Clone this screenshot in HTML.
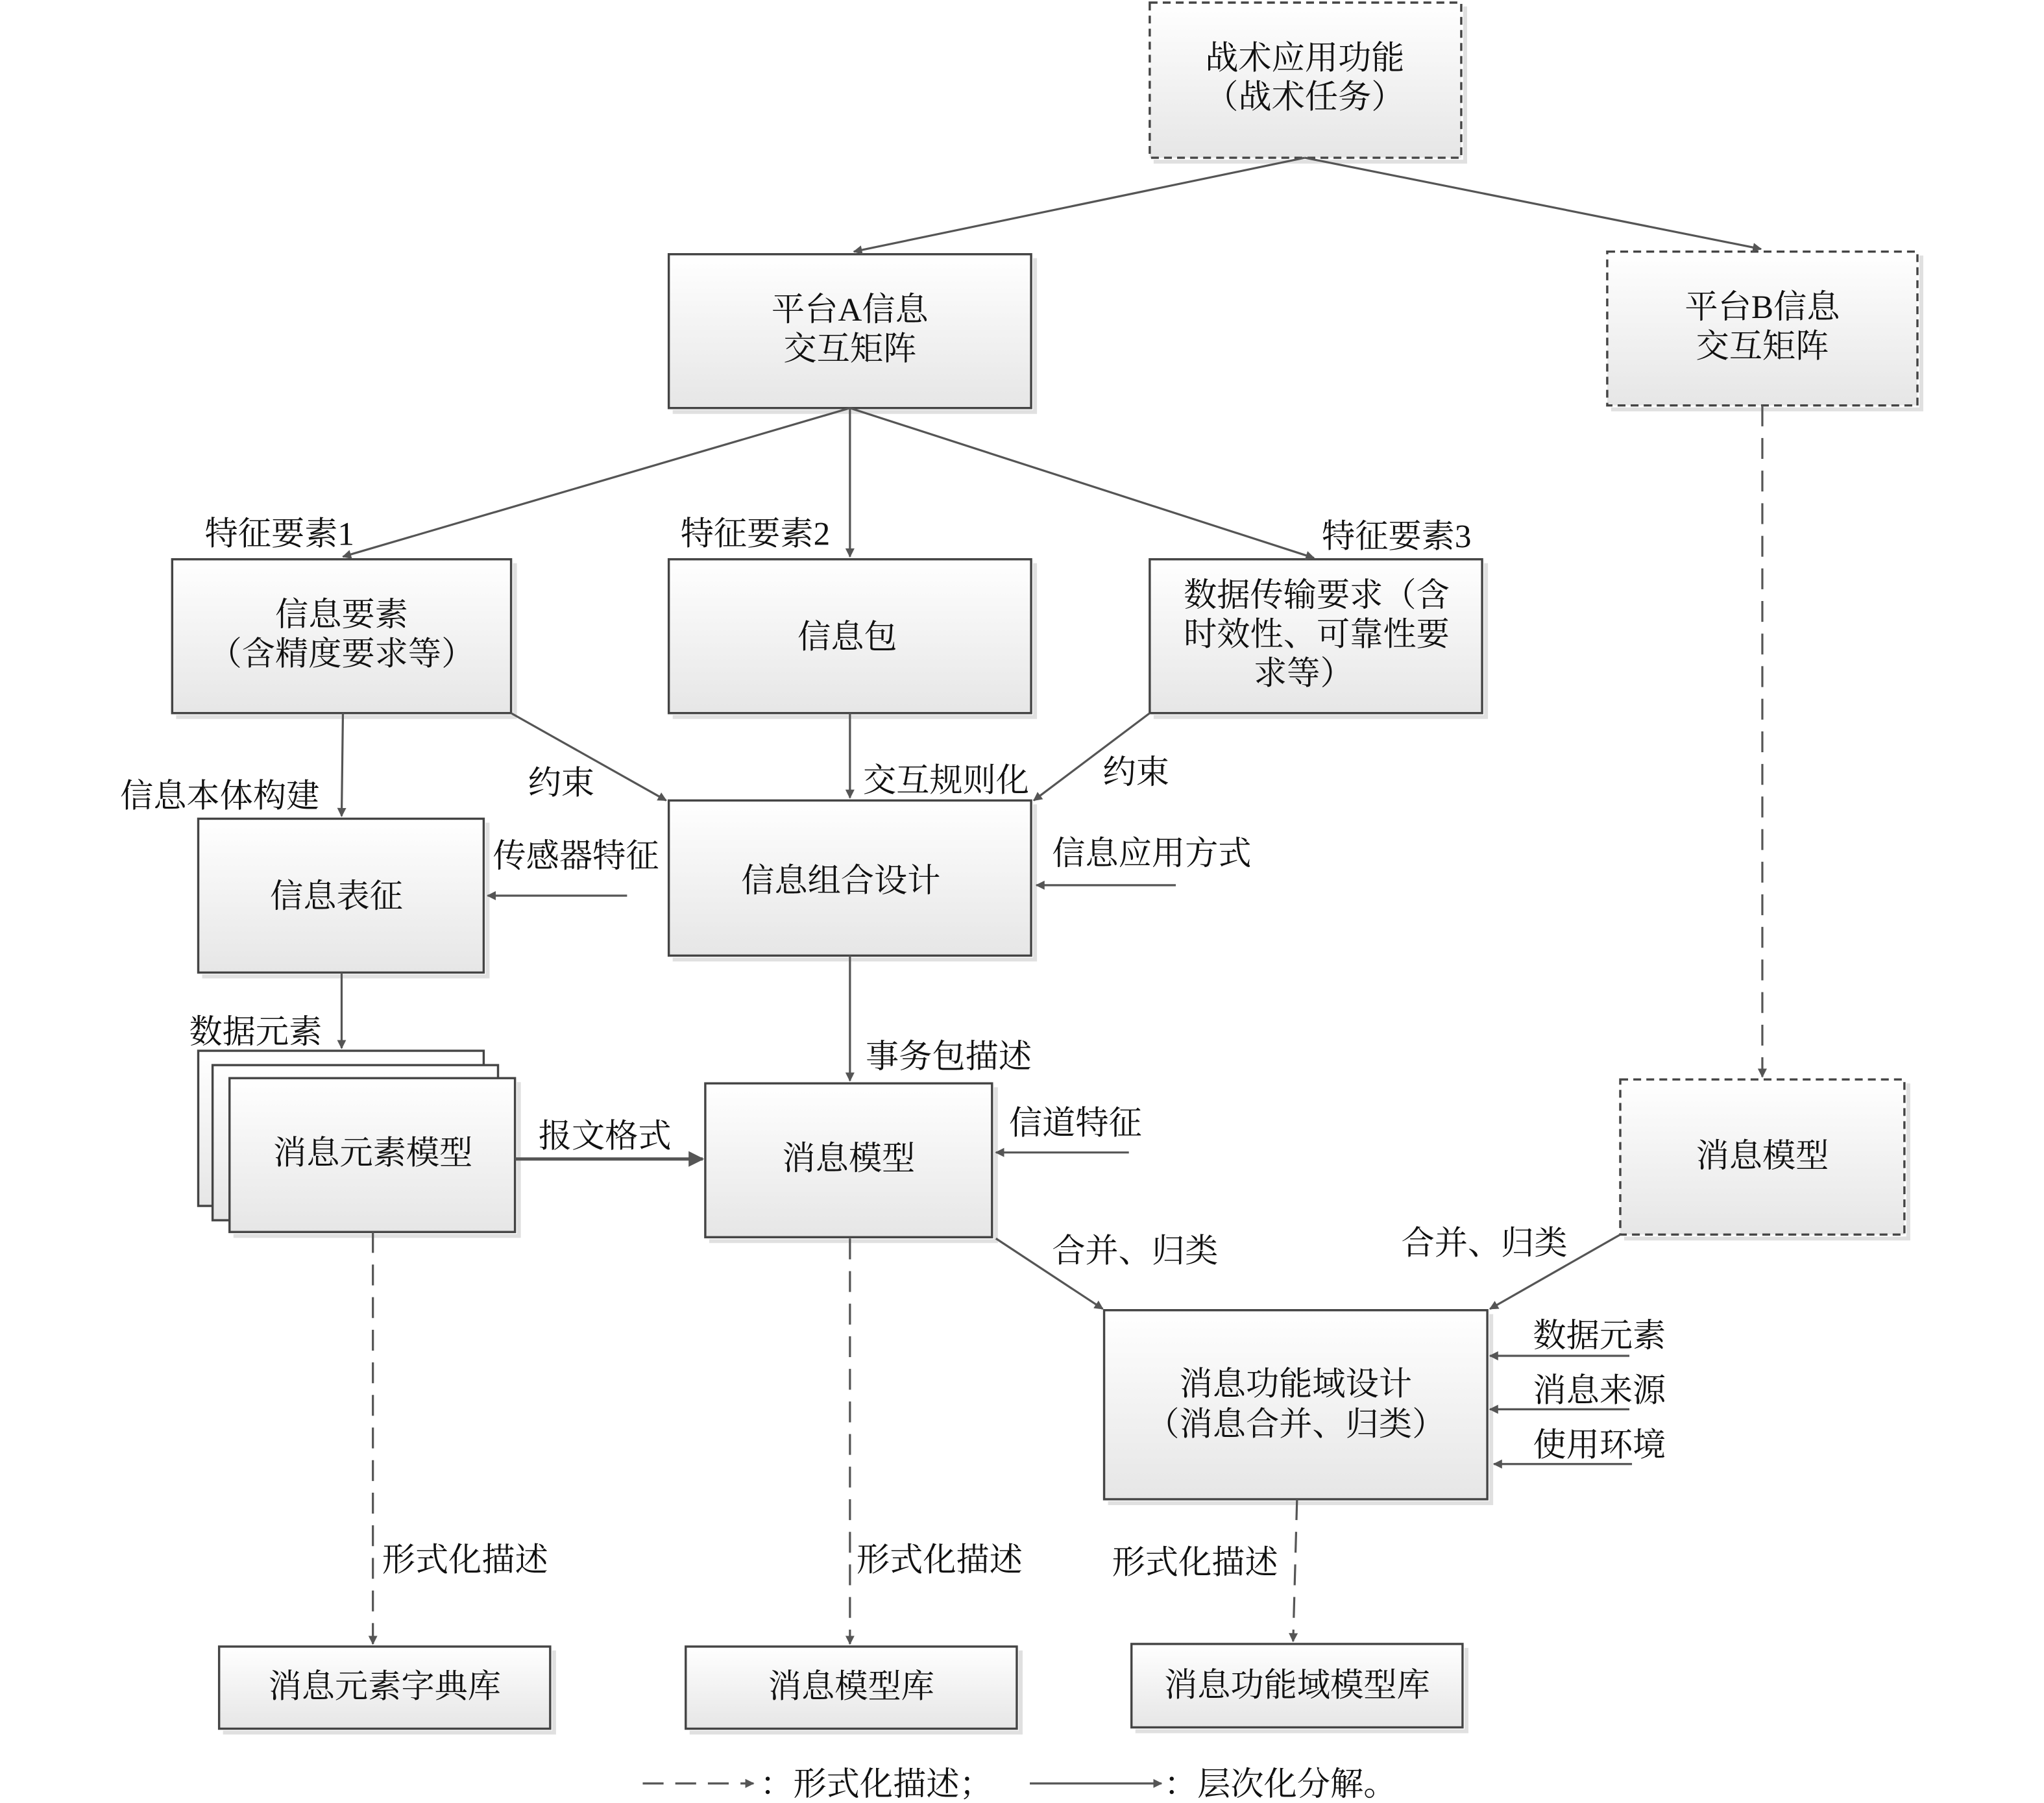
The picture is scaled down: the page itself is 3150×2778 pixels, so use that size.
<!DOCTYPE html>
<html><head><meta charset="utf-8"><style>html,body{margin:0;padding:0;background:#fff}svg{display:block}</style></head><body>
<svg width="3150" height="2778" viewBox="0 0 1568 1383" xmlns="http://www.w3.org/2000/svg" font-family="'Liberation Serif','Noto Serif CJK SC',serif" font-size="25.5" fill="#111">
<defs>
<linearGradient id="g" x1="0" y1="0" x2="0" y2="1"><stop offset="0" stop-color="#ffffff"/><stop offset="1" stop-color="#e6e6e6"/></linearGradient>
<marker id="a" viewBox="0 0 10 10" refX="9" refY="5" markerWidth="7" markerHeight="7" markerUnits="userSpaceOnUse" orient="auto"><path d="M0,0 L10,5 L0,10 z" fill="#555"/></marker>
<marker id="b" viewBox="0 0 10 10" refX="9" refY="5" markerWidth="14" markerHeight="12" markerUnits="userSpaceOnUse" orient="auto"><path d="M0,0 L10,5 L0,10 z" fill="#555"/></marker>
</defs>
<g stroke="#e0e0e0" stroke-width="3" fill="none">
<path d="M885,124 H1124 V5"/><path d="M516,316 H794 V198"/><path d="M1236,314 H1474 V196"/>
<path d="M135,550 H395 V432"/><path d="M516,550 H794 V432"/><path d="M885,550 H1140 V432"/>
<path d="M155,749 H374 V631"/><path d="M516,736 H794 V617"/>
<path d="M179,948 H398 V830"/><path d="M544,952 H764 V834"/><path d="M1246,950 H1464 V831"/>
<path d="M850,1153 H1144 V1008"/><path d="M171,1329 H425 V1266"/><path d="M529,1329 H783 V1266"/><path d="M871,1328 H1125 V1264"/>
</g>
<g stroke="#444" stroke-width="1.7" fill="url(#g)">
<rect x="882" y="2" width="239" height="119" stroke-dasharray="6,4"/>
<rect x="513" y="195" width="278" height="118"/>
<rect x="1233" y="193" width="238" height="118" stroke-dasharray="6,4"/>
<rect x="132" y="429" width="260" height="118"/>
<rect x="513" y="429" width="278" height="118"/>
<rect x="882" y="429" width="255" height="118"/>
<rect x="152" y="628" width="219" height="118"/>
<rect x="513" y="614" width="278" height="119"/>
<rect x="152" y="806" width="219" height="119"/>
<rect x="163" y="817" width="219" height="119"/>
<rect x="176" y="827" width="219" height="118"/>
<rect x="541" y="831" width="220" height="118"/>
<rect x="1243" y="828" width="218" height="119" stroke-dasharray="6,4"/>
<rect x="847" y="1005" width="294" height="145"/>
<rect x="168" y="1263" width="254" height="63"/>
<rect x="526" y="1263" width="254" height="63"/>
<rect x="868" y="1261" width="254" height="64"/>
</g>
<g stroke="#555" stroke-width="1.6" fill="none" marker-end="url(#a)">
<path d="M1001,121 L655,193"/><path d="M1001,121 L1351,191"/>
<path d="M652,313 L263,427"/><path d="M652,313 L652,427"/><path d="M652,313 L1008,428"/>
<path d="M1352,311 L1352,826" stroke-dasharray="16,9"/>
<path d="M263,547 L262,626"/><path d="M392,547 L511,614"/><path d="M652,547 L652,612"/><path d="M882,547 L793,614"/>
<path d="M481,687 L374,687"/><path d="M902,679 L795,679"/>
<path d="M262,746 L262,804"/><path d="M652,733 L652,829"/>
<path d="M866,884 L764,884"/>
<path d="M764,950 L846,1004"/><path d="M1243,947 L1143,1004"/>
<path d="M1250,1040 L1143,1040"/><path d="M1250,1081 L1143,1081"/><path d="M1252,1123 L1146,1123"/>
<path d="M286,945 L286,1261" stroke-dasharray="16,9"/><path d="M652,950 L652,1261" stroke-dasharray="16,9"/><path d="M995,1150 L992,1259" stroke-dasharray="16,9"/>
<path d="M493,1368 L578,1368" stroke-dasharray="16,9"/><path d="M790,1368 L891,1368"/>
</g>
<path d="M395,889 L539,889" stroke="#555" stroke-width="2.5" marker-end="url(#b)"/>
<g text-anchor="middle">
<text x="1001" y="53">战术应用功能</text><text x="1001" y="83">（战术任务）</text>
<text x="652" y="246">平台A信息</text><text x="652" y="276">交互矩阵</text>
<text x="1352" y="244">平台B信息</text><text x="1352" y="274">交互矩阵</text>
<text x="262" y="480">信息要素</text><text x="262" y="510">（含精度要求等）</text>
<text x="650" y="497">信息包</text>
<text x="1010" y="465">数据传输要求（含</text><text x="1010" y="495">时效性、可靠性要</text><text x="1000" y="525">求等）</text>
<text x="258" y="696">信息表征</text>
<text x="645" y="684">信息组合设计</text>
<text x="286" y="893">消息元素模型</text>
<text x="651" y="897">消息模型</text>
<text x="1352" y="895">消息模型</text>
<text x="994" y="1070">消息功能域设计</text><text x="994" y="1101">（消息合并、归类）</text>
<text x="295" y="1302">消息元素字典库</text>
<text x="653" y="1302">消息模型库</text>
<text x="995" y="1301">消息功能域模型库</text>
</g>
<g>
<text x="157" y="418">特征要素1</text><text x="522" y="418">特征要素2</text><text x="1014" y="420">特征要素3</text>
<text x="92" y="619">信息本体构建</text><text x="405" y="609">约束</text><text x="662" y="607">交互规则化</text><text x="846" y="601">约束</text>
<text x="378" y="665">传感器特征</text><text x="807" y="663">信息应用方式</text>
<text x="145" y="800">数据元素</text><text x="664" y="819">事务包描述</text><text x="413" y="880">报文格式</text><text x="774" y="870">信道特征</text>
<text x="807" y="968">合并、归类</text><text x="1075" y="962">合并、归类</text>
<text x="1176" y="1033">数据元素</text><text x="1176" y="1075">消息来源</text><text x="1176" y="1117">使用环境</text>
<text x="293" y="1205">形式化描述</text><text x="657" y="1205">形式化描述</text><text x="853" y="1207">形式化描述</text>
<text x="583" y="1377">：形式化描述；</text><text x="893" y="1377">：层次化分解。</text>
</g>
</svg>
</body></html>
